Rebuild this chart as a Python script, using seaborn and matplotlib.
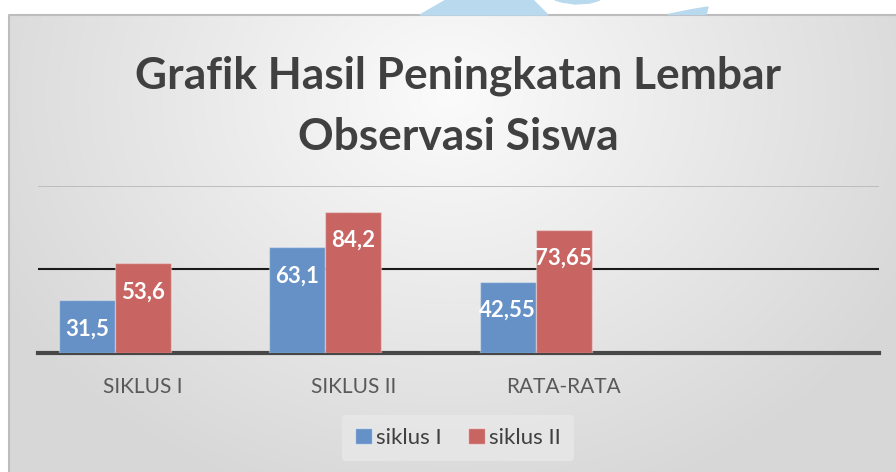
import numpy as np
import pandas as pd
import matplotlib
matplotlib.use("Agg")
import matplotlib.pyplot as plt
from matplotlib.patches import Polygon, Patch
import seaborn as sns

# ---- data ----
categories = ["SIKLUS I", "SIKLUS II", "RATA-RATA"]
siklus_1 = [31.5, 63.1, 42.55]
siklus_2 = [53.6, 84.2, 73.65]
series_names = ["siklus I", "siklus II"]
value_labels_1 = ["31,5", "63,1", "42,55"]
value_labels_2 = ["53,6", "84,2", "73,65"]
title_lines = ["Grafik Hasil Peningkatan Lembar", "Observasi Siswa"]

sns.set_theme(style="white")
plt.rcParams["font.family"] = ["Lato", "DejaVu Sans"]

W, H = 896, 472
fig = plt.figure(figsize=(W / 100, H / 100), dpi=100)
fig.patch.set_facecolor("white")

# ---- background (pixel coordinate axes) ----
bg = fig.add_axes([0, 0, 1, 1], zorder=0)
bg.set_xlim(0, W)
bg.set_ylim(H, 0)
bg.axis("off")
xx, yy = np.meshgrid(np.arange(10, W), np.arange(15, H))
d = np.sqrt(((xx - 450) / 520.0) ** 2 + ((yy - 95) / 430.0) ** 2)
d = np.clip(d, 0, 1)
val = (251 - 36 * d) / 255.0
img = np.dstack([val, val, val])
bg.imshow(img, extent=(10, W, H, 15), aspect="auto", interpolation="bilinear", zorder=0)
bg.plot([9, 9, W], [H, 15, 15], color="#BDBDBD", lw=1.5, zorder=1)
# watermark fragments above the chart frame
wm = "#B9D9EE"
bg.add_patch(Polygon([(420, 15), (548, 15), (533, 0), (446, 0)], closed=True, color=wm, zorder=1))
bg.add_patch(Polygon([(668, 14.5), (706, 14.5), (708, 7), (690, 10)], closed=True, color=wm, zorder=1))
bg.add_patch(Polygon([(555, 0), (600, 0), (590, 3), (575, 4), (562, 2)], closed=True, color=wm, zorder=1))

# ---- main axes ----
left, right = 38, 879
y0, y100 = 353, 185.5
ax = fig.add_axes([left / W, (H - y0) / H, (right - left) / W, (y0 - y100) / H], zorder=2)
ax.patch.set_alpha(0)

df = pd.DataFrame({
    "cat": categories * 2,
    "val": siklus_1 + siklus_2,
    "series": [series_names[0]] * len(categories) + [series_names[1]] * len(categories),
})
blue, red = "#6591C7", "#C86562"
palette = {series_names[0]: blue, series_names[1]: red, "_empty": "#999999"}
sns.barplot(data=df, x="cat", y="val", hue="series",
            order=categories + [" "], hue_order=series_names + ["_empty"],
            palette=palette, width=0.8, ax=ax, legend=False,
            edgecolor=(1, 1, 1, 0.35), linewidth=1.0, saturation=1, zorder=3)

ax.set_xlim(-0.5, 3.5)
ax.set_ylim(0, 100)
ax.set_xlabel("")
ax.set_ylabel("")
ax.set_yticks([0, 50, 100])
ax.set_yticklabels([])
ax.tick_params(axis="y", length=0)
ax.tick_params(axis="x", length=0, pad=17, labelsize=15, labelcolor="#595959")
ax.grid(axis="y", zorder=1)
gls = ax.yaxis.get_gridlines()
gls[0].set_visible(False)
gls[1].set_color("#1A1A1A"); gls[1].set_linewidth(1.5)
gls[2].set_color("#BDBDBD"); gls[2].set_linewidth(1.4)
for s in ["left", "right", "top"]:
    ax.spines[s].set_visible(False)
ax.spines["bottom"].set_color("#474747")
ax.spines["bottom"].set_linewidth(3)
ax.set_axisbelow(True)

# data labels inside the bar ends
for cont, labs in zip(ax.containers[:2], [value_labels_1, value_labels_2]):
    for bar, lab in zip(cont, labs):
        ax.annotate(lab, (bar.get_x() + bar.get_width() / 2, bar.get_height()),
                    xytext=(0, -35), textcoords="offset pixels",
                    ha="center", va="baseline", color="white",
                    fontsize=16, fontweight="bold", zorder=5)

# ---- title ----
t1 = fig.text(458 / W, 1 - 88 / H, title_lines[0], ha="center", va="baseline",
              fontsize=30, fontweight="bold", color="#404040")
fig.canvas.draw()
w = t1.get_window_extent().width
fs = 30 * 645 / w
t1.set_fontsize(fs)
fig.text(458 / W, 1 - 150 / H, title_lines[1], ha="center", va="baseline",
         fontsize=fs, fontweight="bold", color="#404040")

# ---- legend ----
handles = [Patch(facecolor=blue, edgecolor=(1, 1, 1, 0.5), label=series_names[0]),
           Patch(facecolor=red, edgecolor=(1, 1, 1, 0.5), label=series_names[1])]
leg = fig.legend(handles=handles, loc="center", bbox_to_anchor=(458 / W, 1 - 438 / H),
                 ncol=2, frameon=True, fontsize=16, handlelength=0.75, handleheight=0.75,
                 handletextpad=0.2, columnspacing=1.2, borderpad=0.6,
                 labelcolor="#404040")
leg.get_frame().set_facecolor("#E8E8E8")
leg.get_frame().set_edgecolor("none")
leg.get_frame().set_alpha(0.8)
leg.set_zorder(4)

fig.savefig("out.png", dpi=100)
